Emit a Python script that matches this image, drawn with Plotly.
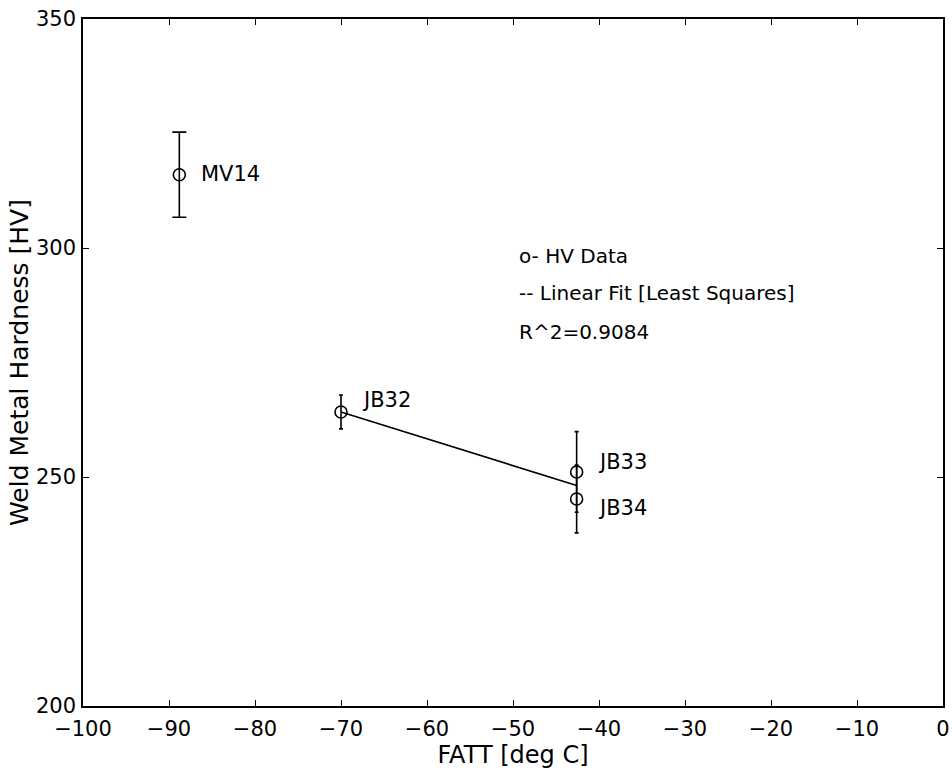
import numpy as np
import plotly.graph_objects as go

# ---- data ----
names = ["MV14", "JB32", "JB33", "JB34"]
fatt = [-88.8, -70.0, -42.6, -42.6]          # FATT [deg C]
hardness = [316.0, 264.2, 251.1, 245.2]      # Weld metal hardness [HV]
hv_err = [9.3, 3.7, 8.8, 7.4]                # error bar half-length [HV]
fit_names = ["JB32", "JB33", "JB34"]          # points used for the least squares fit
r2_text = "R^2=0.9084"

x_ticks = list(range(-100, 1, 10))
y_ticks = [200, 250, 300, 350]

FONT = "DejaVu Sans"

fig = go.Figure()

big = [i for i, n in enumerate(names) if n == "MV14"]
small = [i for i, n in enumerate(names) if n != "MV14"]

fig.add_trace(go.Scatter(
    x=[fatt[i] for i in big], y=[hardness[i] for i in big],
    mode="markers",
    marker=dict(symbol="circle-open", size=12, color="black", line=dict(width=1.6, color="black")),
    error_y=dict(type="data", array=[hv_err[i] for i in big], color="black", thickness=1.6, width=7),
    showlegend=False, hoverinfo="skip"))

fig.add_trace(go.Scatter(
    x=[fatt[i] for i in small], y=[hardness[i] for i in small],
    mode="markers",
    marker=dict(symbol="circle-open", size=12, color="black", line=dict(width=1.6, color="black")),
    error_y=dict(type="data", array=[hv_err[i] for i in small], color="black", thickness=1.6, width=2),
    showlegend=False, hoverinfo="skip"))

# least squares linear fit on the JB welds
fx = np.array([fatt[names.index(n)] for n in fit_names])
fy = np.array([hardness[names.index(n)] for n in fit_names])
slope, intercept = np.polyfit(fx, fy, 1)
lx = np.array([fx.min(), fx.max()])
fig.add_trace(go.Scatter(x=lx, y=slope * lx + intercept, mode="lines",
                         line=dict(color="black", width=1.6),
                         showlegend=False, hoverinfo="skip"))

# point labels (offsets in pixels from each point)
label_shift = {"MV14": (20, 1), "JB32": (19, 12), "JB33": (19, 10), "JB34": (19, -9)}
for n, x, y in zip(names, fatt, hardness):
    dx, dy = label_shift[n]
    fig.add_annotation(x=x, y=y, xref="x", yref="y", text=n, showarrow=False,
                       xanchor="left", yanchor="middle", xshift=dx, yshift=dy,
                       font=dict(family=FONT, size=21, color="black"))

# in-plot legend text
legend_lines = ["o- HV Data", "-- Linear Fit [Least Squares]", r2_text]
legend_y = [0.655, 0.601, 0.545]
for t, yy in zip(legend_lines, legend_y):
    fig.add_annotation(x=0.505, y=yy, xref="paper", yref="paper", text=t, showarrow=False,
                       xanchor="left", yanchor="middle",
                       font=dict(family=FONT, size=20, color="black"))

axis_common = dict(showline=True, linecolor="black", linewidth=1.6, mirror="ticks",
                   ticks="inside", ticklen=6, tickwidth=1.2, tickcolor="black",
                   showgrid=False, zeroline=False, automargin=False,
                   tickfont=dict(family=FONT, size=21, color="black"))

fig.update_layout(
    width=952, height=776,
    margin=dict(l=83, r=9, t=19, b=70),
    paper_bgcolor="white", plot_bgcolor="white",
    xaxis=dict(range=[-100, 0], tickvals=x_ticks, ticktext=[("\u2212" + str(-v)) if v < 0 else str(v) for v in x_ticks],
               ticklabelstandoff=3,
               title=dict(text="FATT [deg C]", font=dict(family=FONT, size=24, color="black"), standoff=0),
               **axis_common),
    yaxis=dict(range=[200, 350], tickvals=y_ticks, ticklabelstandoff=1,
               title=dict(text="Weld Metal Hardness [HV]", font=dict(family=FONT, size=25, color="black"), standoff=0),
               **axis_common),
)

fig.write_html("out.html", config={"displayModeBar": False},
               post_script="document.body.style.margin='0';document.body.style.overflow='hidden';")
